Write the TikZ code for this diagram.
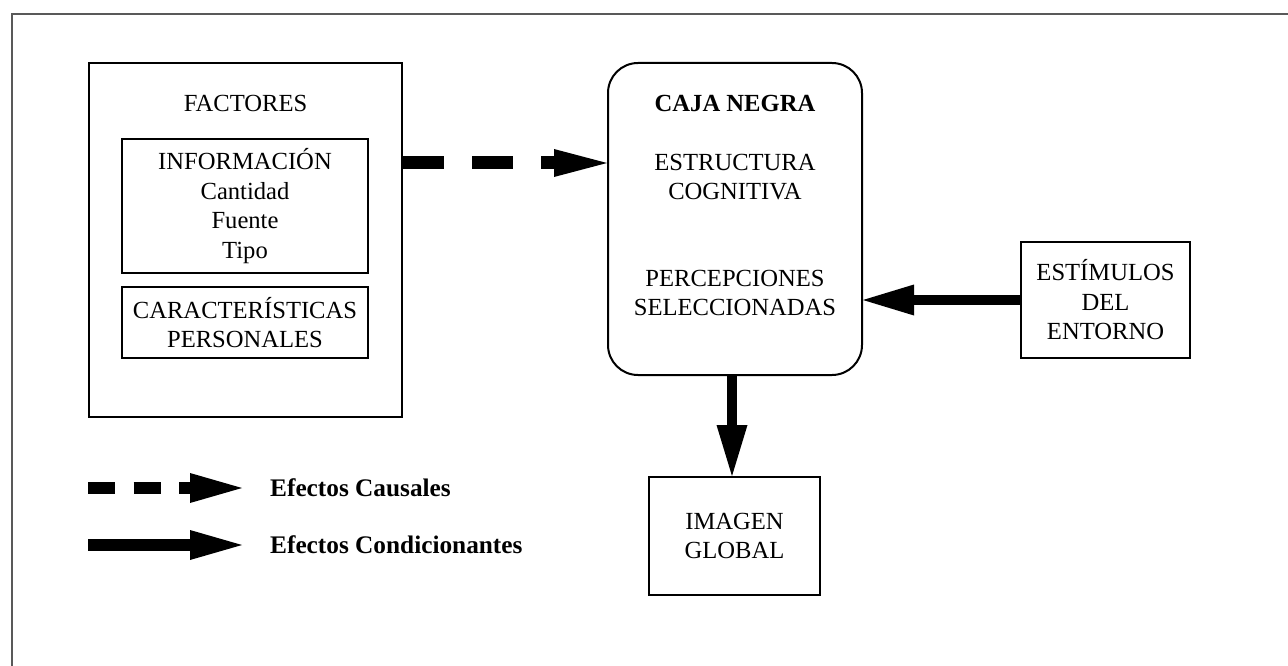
\documentclass[tikz,border=0pt]{standalone}
\usepackage{fontspec}
\setmainfont{Liberation Serif}
\usetikzlibrary{arrows.meta}
\begin{document}
\begin{tikzpicture}[x=1pt,y=-1pt,
  every node/.style={font=\fontsize{24.6}{29.5}\selectfont, align=center, inner sep=0pt},
  box/.style={draw, line width=2pt},
  thinbox/.style={draw, line width=1.4pt},
  txt/.style={},
  legtxt/.style={font=\fontsize{25.3}{29}\selectfont\bfseries, anchor=west},
  causal/.style={line width=13pt, dash pattern=on 41pt off 28pt, -{Triangle[length=53pt,width=28pt,line width=0pt]}},
  legcausal/.style={line width=12pt, dash pattern=on 27pt off 18.5pt, -{Triangle[length=52pt,width=30pt,line width=0pt]}},
  cond/.style={line width=10pt, -{Triangle[length=51pt,width=31pt,line width=0pt]}},
  legcond/.style={line width=12pt, -{Triangle[length=52pt,width=30pt,line width=0pt]}}
]
\useasboundingbox (0,0) rectangle (1288,666);
\fill[white] (0,0) rectangle (1288,666);
% outer frame
\draw[black!65, line width=1.5pt] (12,666) -- (12,14) -- (1288,14);

% Factores
\node[box, minimum width=313pt, minimum height=354pt] (factores) at (245.5,240) {};
\node[txt] (factt) at (245.5,103) {FACTORES};
\node[thinbox, minimum width=246pt, minimum height=134pt] (info) at (245,206)
  {INFORMACIÓN\\Cantidad\\Fuente\\Tipo};
\node[thinbox, minimum width=246pt, minimum height=71pt] (carac) at (245,322.5)
  {CARACTERÍSTICAS\\PERSONALES};

% Caja negra
\node[box, rounded corners=30pt, minimum width=254pt, minimum height=312pt] (caja) at (735,219) {};
\node[txt, font=\fontsize{24.6}{29.5}\selectfont\bfseries] (cajat) at (735,103) {CAJA NEGRA};
\node[txt] (estr) at (735,177) {ESTRUCTURA\\COGNITIVA};
\node[txt] (perc) at (735,293) {PERCEPCIONES\\SELECCIONADAS};

% Estimulos
\node[box, minimum width=169pt, minimum height=116pt] (estim) at (1105.5,300)
  {ESTÍMULOS\\DEL\\ENTORNO};

% Imagen
\node[box, minimum width=171pt, minimum height=118pt] (imagen) at (734.5,536)
  {IMAGEN\\GLOBAL};

% connectors
\coordinate (dy) at (0,163);
\draw[causal] (factores.east |- dy) -- (caja.west |- dy);
\draw[cond] (estim.west) -- (caja.east |- estim.west);
\draw[cond] (caja.south -| 732,0) -- (imagen.north -| 732,0);

% legend
\coordinate (l1s) at (88,488);
\coordinate (l1e) at (242,488);
\coordinate (l2s) at (88,545);
\coordinate (l2e) at (242,545);
\draw[legcausal] (l1s) -- (l1e);
\draw[legcond] (l2s) -- (l2e);
\node[legtxt] (leg1) at (270,488) {Efectos Causales};
\node[legtxt] (leg2) at (270,545) {Efectos Condicionantes};
\end{tikzpicture}
\end{document}
